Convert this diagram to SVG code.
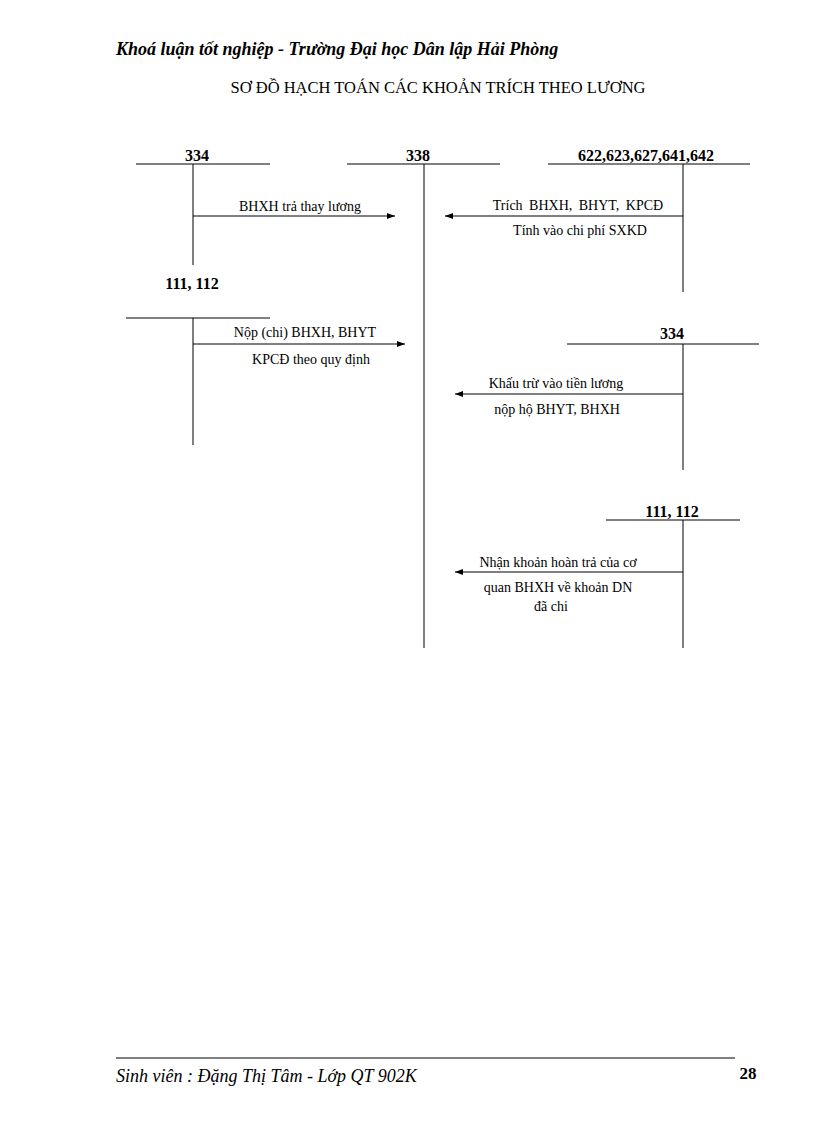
<svg xmlns="http://www.w3.org/2000/svg" width="816" height="1123" viewBox="0 0 816 1123">
<style>
.l{stroke:#000;stroke-width:1;fill:none}
.t{font-family:"Liberation Serif",serif;font-size:14px;fill:#000}
.b{font-family:"Liberation Serif",serif;font-size:16px;font-weight:bold;fill:#000}
.m{text-anchor:middle}
</style>
<defs><marker id="a" markerWidth="8" markerHeight="6" refX="8" refY="3" orient="auto" markerUnits="userSpaceOnUse"><path d="M0,0L8,3L0,6z" fill="#000"/></marker></defs>
<rect width="816" height="1123" fill="#fff"/>
<text x="116" y="55" font-family="Liberation Serif,serif" font-size="18" font-weight="bold" font-style="italic">Khoá luận tốt nghiệp - Trường Đại học Dân lập Hải Phòng</text>
<text x="438" y="93" class="t m" style="font-size:16.5px">SƠ ĐỒ HẠCH TOÁN CÁC KHOẢN TRÍCH THEO LƯƠNG</text>
<g id="acc334a"><text x="197" y="161" class="b m">334</text><path class="l" d="M136,164H270M193,164V265"/></g>
<g id="acc338"><text x="418" y="161" class="b m">338</text><path class="l" d="M347,164H500M424,164V648"/></g>
<g id="acc622"><text x="646" y="161" class="b m">622,623,627,641,642</text><path class="l" d="M548,164H750M683,164V292"/></g>
<g id="acc111a"><text x="192" y="289" class="b m">111, 112</text><path class="l" d="M126,318H270M193,318V445"/></g>
<g id="acc334b"><text x="672" y="339" class="b m">334</text><path class="l" d="M567,344H759M683,344V470"/></g>
<g id="acc111b"><text x="672" y="517" class="b m">111, 112</text><path class="l" d="M606,520H740M683,520V648"/></g>
<g id="connectors">
<path class="l" d="M193,216H395" marker-end="url(#a)"/>
<path class="l" d="M683,216H445" marker-end="url(#a)"/>
<path class="l" d="M193,344H405" marker-end="url(#a)"/>
<path class="l" d="M683,394H455" marker-end="url(#a)"/>
<path class="l" d="M683,572H455" marker-end="url(#a)"/>
<text x="300" y="211" class="t m">BHXH trả thay lương</text>
<text x="578" y="210" class="t m" style="word-spacing:3px">Trích BHXH, BHYT, KPCĐ</text>
<text x="580" y="235" class="t m">Tính vào chi phí SXKD</text>
<text x="305" y="337" class="t m">Nộp (chi) BHXH, BHYT</text>
<text x="311" y="364" class="t m">KPCĐ theo quy định</text>
<text x="556" y="388" class="t m">Khấu trừ vào tiền lương</text>
<text x="557" y="414" class="t m">nộp hộ BHYT, BHXH</text>
<text x="558" y="567" class="t m">Nhận khoản hoàn trả của cơ</text>
<text x="558" y="592" class="t m">quan BHXH về khoản DN</text>
<text x="551" y="611" class="t m">đã chi</text>
</g>
<path class="l" d="M116,1058H735"/>
<text x="116" y="1082" font-family="Liberation Serif,serif" font-size="18" font-style="italic">Sinh viên : Đặng Thị Tâm - Lớp QT 902K</text>
<text x="748" y="1079" class="b m" style="font-size:17px">28</text>
</svg>
